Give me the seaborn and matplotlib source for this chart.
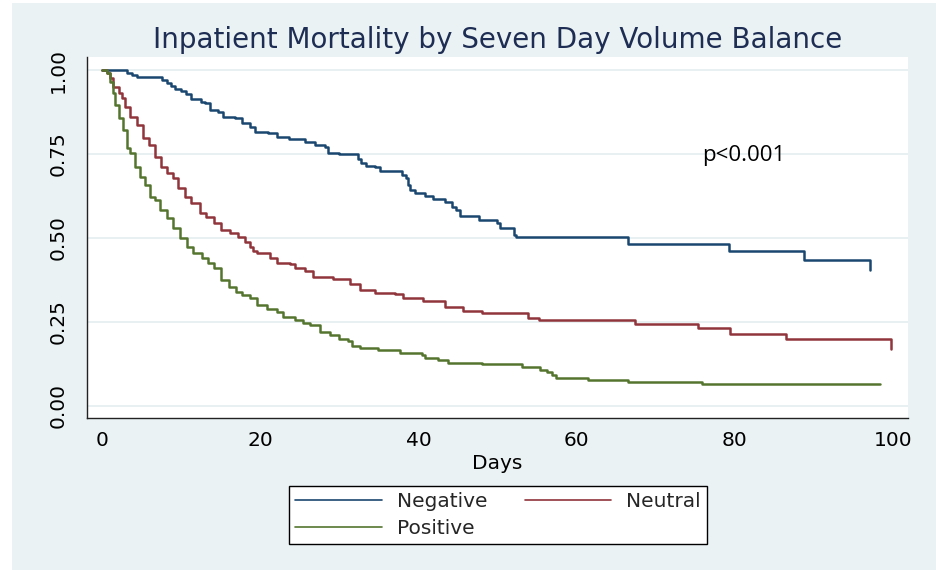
import matplotlib
matplotlib.use('Agg')
import matplotlib.pyplot as plt
from matplotlib.lines import Line2D
from matplotlib.patches import Rectangle
import pandas as pd
import seaborn as sns

# Kaplan-Meier steps (day the step happens, survival after it)
neg_days = [0, 3.2, 3.8, 4.4, 7.6, 8.2, 8.7, 9.2, 10.0, 10.6, 11.3, 12.5, 13.0, 13.7, 14.7,
            15.3, 16.8, 17.7, 18.7, 19.3, 21.0, 22.1, 23.6, 25.7, 26.9, 28.2, 28.6, 30.0,
            32.3, 32.8, 33.4, 34.5, 35.1, 37.9, 38.4, 38.7, 38.9, 39.6, 40.8, 41.9, 43.4,
            44.2, 44.8, 45.3, 47.6, 49.9, 50.3, 52.1, 52.4, 66.5, 79.3, 88.7, 97.1]
neg_surv = [1.0, 0.992, 0.986, 0.978, 0.970, 0.962, 0.952, 0.945, 0.937, 0.928, 0.913, 0.906,
            0.901, 0.881, 0.876, 0.861, 0.856, 0.843, 0.831, 0.816, 0.812, 0.800, 0.794, 0.787,
            0.777, 0.770, 0.754, 0.750, 0.734, 0.722, 0.714, 0.710, 0.699, 0.688, 0.678, 0.658,
            0.643, 0.635, 0.625, 0.617, 0.608, 0.593, 0.583, 0.565, 0.554, 0.544, 0.529, 0.509,
            0.502, 0.482, 0.461, 0.435, 0.405]

neu_days = [0, 0.6, 1.0, 1.4, 2.1, 2.5, 2.9, 3.5, 4.4, 5.2, 5.9, 6.7, 7.5, 8.2, 9.0, 9.6, 10.5,
            11.3, 12.4, 13.2, 14.1, 15.1, 16.2, 17.2, 18.1, 18.7, 19.1, 19.6, 21.2, 22.1, 23.8,
            24.4, 25.7, 26.7, 29.2, 31.3, 32.6, 34.5, 37.0, 38.1, 40.6, 43.4, 45.7, 48.0, 53.9,
            55.3, 67.4, 75.3, 79.4, 86.5, 99.8]
neu_surv = [1.0, 0.990, 0.975, 0.950, 0.931, 0.916, 0.891, 0.861, 0.836, 0.797, 0.777, 0.742,
            0.712, 0.693, 0.678, 0.648, 0.623, 0.603, 0.574, 0.563, 0.544, 0.524, 0.514, 0.504,
            0.489, 0.474, 0.462, 0.456, 0.440, 0.425, 0.422, 0.410, 0.403, 0.385, 0.377, 0.362,
            0.345, 0.335, 0.332, 0.322, 0.312, 0.294, 0.283, 0.276, 0.263, 0.256, 0.244, 0.231,
            0.214, 0.198, 0.169]

pos_days = [0, 0.6, 1.0, 1.4, 1.7, 2.1, 2.6, 3.1, 3.5, 4.2, 4.8, 5.4, 6.1, 6.7, 7.3, 8.2, 9.0,
            9.9, 10.7, 11.5, 12.6, 13.4, 14.1, 15.1, 16.0, 17.0, 17.7, 18.7, 19.6, 20.8, 22.1,
            22.9, 24.4, 25.4, 26.3, 27.6, 28.8, 29.9, 31.1, 31.6, 32.6, 34.9, 37.7, 40.4, 40.8,
            42.5, 43.8, 48.0, 53.1, 55.4, 56.2, 56.9, 57.4, 61.5, 66.5, 75.9, 98.3]
pos_surv = [1.0, 0.990, 0.965, 0.931, 0.896, 0.856, 0.821, 0.767, 0.752, 0.712, 0.682, 0.658,
            0.623, 0.613, 0.583, 0.559, 0.529, 0.499, 0.474, 0.454, 0.440, 0.425, 0.410, 0.375,
            0.355, 0.340, 0.330, 0.320, 0.300, 0.288, 0.281, 0.266, 0.256, 0.248, 0.241, 0.221,
            0.211, 0.198, 0.193, 0.179, 0.172, 0.167, 0.159, 0.152, 0.144, 0.137, 0.129, 0.124,
            0.117, 0.107, 0.102, 0.092, 0.084, 0.077, 0.070, 0.064, 0.064]

groups = ['Negative', 'Neutral', 'Positive']
colors = ['#1A476F', '#90353B', '#55752F']
x_ticks = [0, 20, 40, 60, 80, 100]
y_ticks = [0.0, 0.25, 0.5, 0.75, 1.0]

df = pd.concat([
    pd.DataFrame({'Days': neg_days, 'Survival': neg_surv, 'Group': 'Negative'}),
    pd.DataFrame({'Days': neu_days, 'Survival': neu_surv, 'Group': 'Neutral'}),
    pd.DataFrame({'Days': pos_days, 'Survival': pos_surv, 'Group': 'Positive'}),
])

sns.set_theme(style='white')
plt.rcParams['font.family'] = ['DejaVu Sans']

bg = '#EAF2F3'
fig = plt.figure(figsize=(9.36, 5.70), dpi=100, facecolor='white')
fig.patches.append(Rectangle((12 / 936, 0), 1, 567 / 570, transform=fig.transFigure,
                             facecolor=bg, edgecolor='none', zorder=-10))
ax = fig.add_axes([87 / 936, 1 - 418 / 570, 821 / 936, 361 / 570])
ax.set_facecolor('white')

for y in y_ticks:
    ax.axhline(y, color='#E4EDF0', lw=1.2, zorder=0)

sns.lineplot(data=df, x='Days', y='Survival', hue='Group', hue_order=groups,
             palette=colors, drawstyle='steps-post', estimator=None, sort=False,
             linewidth=1.8, legend=False, ax=ax)

ax.set_xlim(-1.9, 101.9)
ax.set_ylim(-0.036, 1.039)
ax.set_xticks(x_ticks)
ax.set_yticks(y_ticks)
ax.set_yticklabels([f'{v:.2f}' for v in y_ticks])
ax.tick_params(axis='both', direction='out', length=5, width=1, color='#222222',
               labelsize=14.5, labelcolor='black')
ax.tick_params(axis='y', pad=9, labelrotation=90)
ax.tick_params(axis='x', pad=4)
for lab in ax.get_yticklabels():
    lab.set_va('center')

for side in ['top', 'right']:
    ax.spines[side].set_visible(False)
for side in ['left', 'bottom']:
    ax.spines[side].set_color('#222222')
    ax.spines[side].set_linewidth(1)

ax.set_xlabel('Days', fontsize=14.5, labelpad=3, color='black')
ax.set_ylabel('')
ax.set_title('Inpatient Mortality by Seven Day Volume Balance', fontsize=20,
             color='#1E2D53', pad=6.5)

ax.text(75.9, 0.745, 'p<0.001', fontsize=16, family=['Open Sans', 'DejaVu Sans'],
        ha='left', va='center', color='black')

# row-major legend: Negative | Neutral / Positive
order = [0, 2, 1]
handles = [Line2D([], [], color=colors[i], lw=1.2) for i in order]
labels = [groups[i] for i in order]
fig.legend(handles, labels, loc='center', bbox_to_anchor=(498 / 936, 1 - 515 / 570),
           ncol=2, fontsize=14.5, frameon=True, fancybox=False, edgecolor='black',
           framealpha=1, handlelength=4.3, handletextpad=0.75, columnspacing=1.85,
           labelspacing=0.42, borderpad=0.3).get_frame().set_linewidth(1)

fig.savefig('out.png', dpi=100, facecolor=fig.get_facecolor())
